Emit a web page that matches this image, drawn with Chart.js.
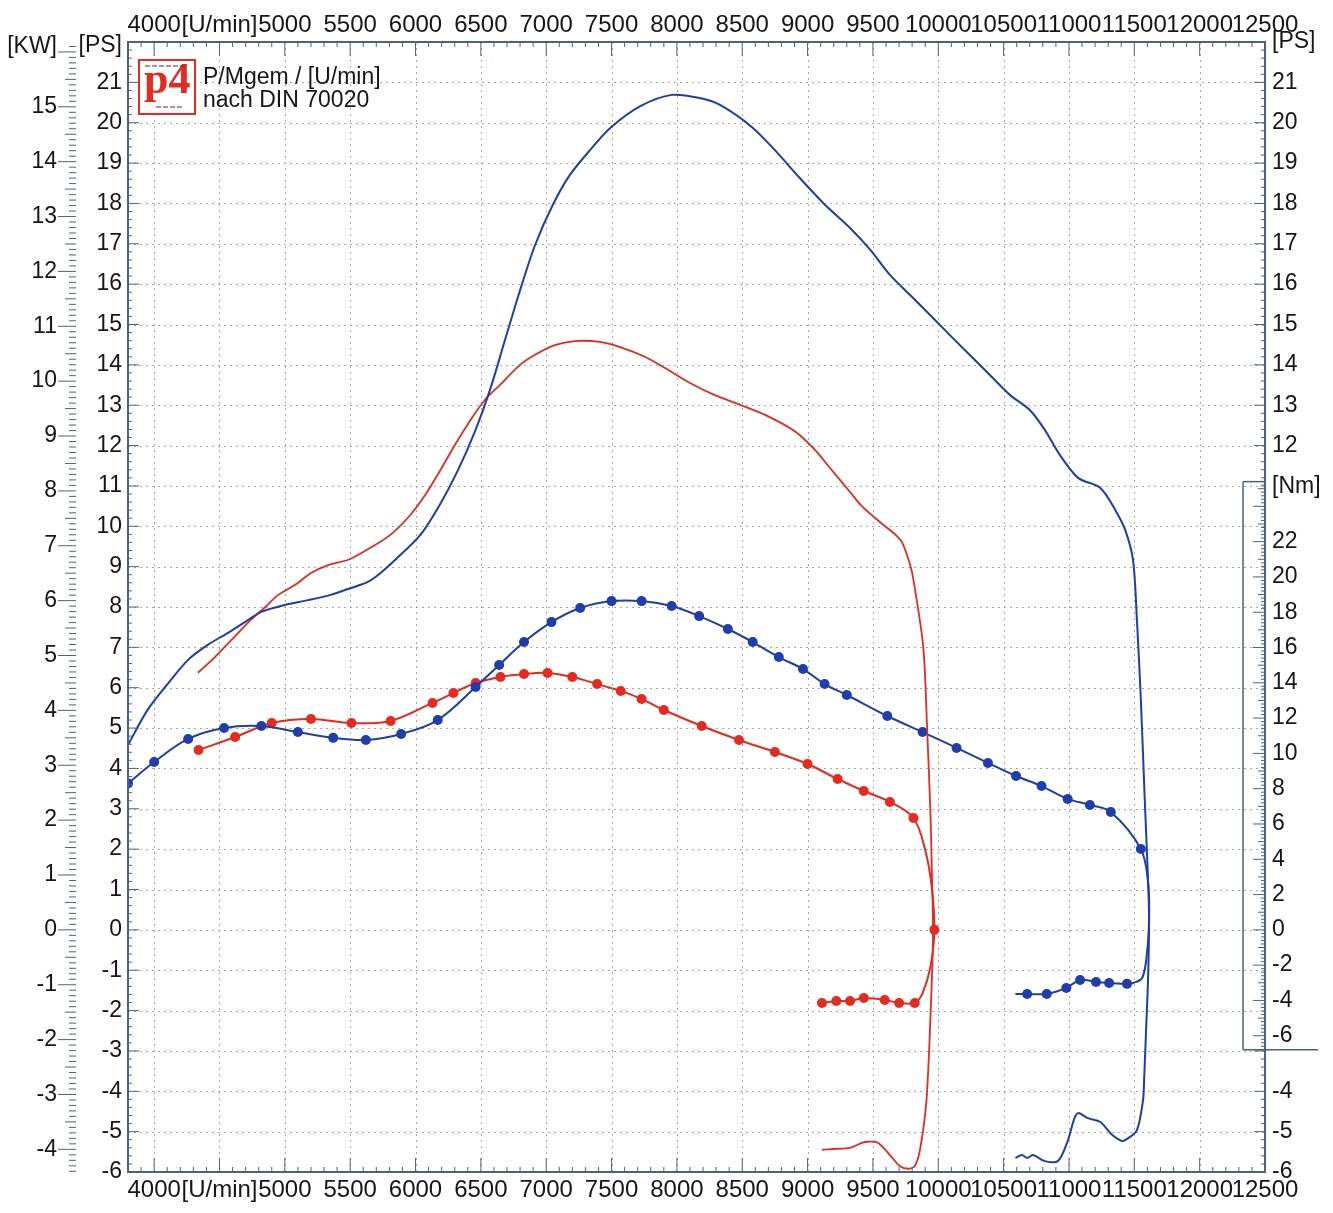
<!DOCTYPE html>
<html>
<head>
<meta charset="utf-8">
<title>P/Mgem nach DIN 70020</title>
<script src="https://cdn.jsdelivr.net/npm/chart.js@4.4.1/dist/chart.umd.min.js"></script>
<style>
  html, body { margin: 0; padding: 0; background: #fff; overflow: hidden; }
  #wrap { width: 1333px; height: 1213px; }
</style>
</head>
<body>
<div id="wrap"><canvas id="dyno" width="1333" height="1213"></canvas></div>
<script>
// --- Drehzahl-Achse ---
const rpmRange = [3800, 12500];
const rpmTicks = [4000, 4500, 5000, 5500, 6000, 6500, 7000, 7500, 8000, 8500, 9000, 9500, 10000, 10500, 11000, 11500, 12000, 12500];
const rpmTickLabels = { 4500: '[U/min]' };

// --- Leistung blau (PS), inkl. Auslauf-/Verlustkurve ---
const bluePowerRpm = [3800, 3950, 4110, 4260, 4410, 4565, 4720, 4820, 5000, 5180, 5350, 5505, 5635, 5735, 5845, 6035, 6185, 6325, 6455, 6570, 6685, 6800, 6915, 7050, 7180, 7335, 7490, 7720, 7960, 8175, 8330, 8575, 8750, 8940, 9135, 9325, 9480, 9630, 9785, 9975, 10165, 10395, 10550, 10700, 10815, 10930, 11070, 11240, 11355, 11430, 11490, 11520, 11550, 11580, 11605, 11613, 11605, 11590, 11575, 11567, 11520, 11445, 11405, 11330, 11240, 11140, 11075, 11045, 10985, 10915, 10815, 10725, 10680, 10640, 10590];
const bluePowerPs = [4.58, 5.45, 6.12, 6.69, 7.06, 7.36, 7.68, 7.88, 8.05, 8.17, 8.30, 8.47, 8.62, 8.85, 9.17, 9.78, 10.53, 11.39, 12.35, 13.38, 14.62, 15.85, 16.97, 17.96, 18.70, 19.32, 19.87, 20.41, 20.69, 20.61, 20.44, 19.89, 19.32, 18.63, 17.96, 17.39, 16.85, 16.23, 15.73, 15.11, 14.49, 13.75, 13.25, 12.88, 12.39, 11.77, 11.20, 10.95, 10.40, 9.91, 9.17, 7.68, 5.70, 3.22, 1.24, 0.25, -1.24, -2.48, -3.72, -4.21, -4.96, -5.18, -5.23, -5.08, -4.76, -4.66, -4.54, -4.64, -5.28, -5.73, -5.73, -5.58, -5.65, -5.58, -5.65];

// --- Leistung rot (PS) ---
const redPowerRpm = [4335, 4465, 4590, 4740, 4850, 4950, 5080, 5200, 5330, 5485, 5650, 5805, 5960, 6075, 6190, 6300, 6420, 6530, 6645, 6800, 6915, 7065, 7220, 7410, 7565, 7755, 7910, 8100, 8290, 8485, 8675, 8905, 9055, 9170, 9325, 9415, 9555, 9670, 9725, 9785, 9810, 9885, 9915, 9940, 9950, 9960, 9945, 9910, 9860, 9820, 9770, 9705, 9630, 9540, 9460, 9415, 9325, 9195, 9110];
const redPowerPs = [6.37, 6.76, 7.18, 7.68, 8.00, 8.30, 8.55, 8.84, 9.04, 9.17, 9.46, 9.78, 10.28, 10.78, 11.39, 12.01, 12.63, 13.13, 13.50, 14.00, 14.25, 14.49, 14.59, 14.57, 14.44, 14.20, 13.92, 13.55, 13.25, 13.01, 12.76, 12.35, 11.90, 11.45, 10.85, 10.50, 10.10, 9.80, 9.59, 9.04, 8.67, 7.01, 4.95, 2.90, 1.56, -0.08, -1.74, -4.21, -5.45, -5.85, -5.92, -5.85, -5.58, -5.28, -5.25, -5.28, -5.40, -5.43, -5.45];

// --- Drehmoment blau (Nm); 1 = Messpunkt ---
const blueTorqueRpm = [3800, 4000, 4260, 4535, 4820, 5100, 5370, 5620, 5890, 6170, 6460, 6640, 6830, 7040, 7260, 7500, 7730, 7960, 8170, 8390, 8580, 8780, 8965, 9130, 9300, 9610, 9880, 10140, 10380, 10595, 10790, 10990, 11160, 11320, 11550, 11605, 11613, 11597, 11560, 11490, 11444, 11307, 11207, 11085, 10980, 10830, 10680, 10590];
const blueTorqueNm = [8.30, 9.51, 10.82, 11.44, 11.55, 11.21, 10.88, 10.76, 11.10, 11.89, 13.76, 15.01, 16.31, 17.44, 18.24, 18.63, 18.63, 18.35, 17.78, 17.05, 16.31, 15.46, 14.78, 13.93, 13.31, 12.12, 11.21, 10.31, 9.46, 8.72, 8.15, 7.42, 7.08, 6.68, 4.58, 2.71, 0.73, -1.31, -2.73, -3.01, -3.06, -3.01, -2.95, -2.84, -3.29, -3.63, -3.63, -3.63];
const blueTorqueDots = [1, 1, 1, 1, 1, 1, 1, 1, 1, 1, 1, 1, 1, 1, 1, 1, 1, 1, 1, 1, 1, 1, 1, 1, 1, 1, 1, 1, 1, 1, 1, 1, 1, 1, 1, 0, 0, 0, 0, 0, 1, 1, 1, 1, 1, 1, 1, 0];

// --- Drehmoment rot (Nm); 1 = Messpunkt ---
const redTorqueRpm = [4340, 4620, 4900, 5200, 5510, 5810, 6130, 6290, 6460, 6650, 6830, 7010, 7200, 7390, 7570, 7730, 7900, 8190, 8475, 8750, 9000, 9230, 9430, 9630, 9810, 9900, 9950, 9970, 9940, 9880, 9820, 9700, 9590, 9430, 9325, 9220, 9110];
const redTorqueNm = [10.19, 10.93, 11.72, 11.95, 11.72, 11.84, 12.86, 13.42, 13.99, 14.33, 14.50, 14.56, 14.33, 13.93, 13.54, 13.08, 12.46, 11.55, 10.76, 10.08, 9.40, 8.55, 7.87, 7.25, 6.34, 4.53, 2.43, 0, -2.10, -3.58, -4.14, -4.14, -3.97, -3.86, -4.03, -4.03, -4.14];
const redTorqueDots = [1, 1, 1, 1, 1, 1, 1, 1, 1, 1, 1, 1, 1, 1, 1, 1, 1, 1, 1, 1, 1, 1, 1, 1, 1, 0, 0, 1, 0, 0, 1, 1, 1, 1, 1, 1, 1];

// --- Achsteilungen ---
const psRange = [-6, 22];
const psTicksLeft = [-6, -5, -4, -3, -2, -1, 0, 1, 2, 3, 4, 5, 6, 7, 8, 9, 10, 11, 12, 13, 14, 15, 16, 17, 18, 19, 20, 21];
const psTicksRight = [21, 20, 19, 18, 17, 16, 15, 14, 13, 12, -4, -5, -6];
const kwTicks = [-4, -3, -2, -1, 0, 1, 2, 3, 4, 5, 6, 7, 8, 9, 10, 11, 12, 13, 14, 15];
const nmTicks = [-6, -4, -2, 0, 2, 4, 6, 8, 10, 12, 14, 16, 18, 20, 22];

const PS_PER_KW = 1.35962;
const NM_PER_PS = 2.287;   // Nm-Skala liegt im Raster der PS-Skala (0 auf 0)
const NM_BOX = [-6.8, 25.4]; // Bereich des Nm-Kastens rechts

const BLUE = '#1f3dac';
const RED = '#e62a20';
const AXIS = '#4e6379';
const GRID = '#a9a9a9';
const TXT = '#161616';
const FONT = "'Liberation Sans', Arial, sans-serif";

const toPoints = (xs, ys) => xs.map((x, i) => ({ x: x, y: ys[i] }));
const labelled = values => values.map(v => [v, String(v)]);
const setTicks = entries => scale => {
    scale.ticks = entries.map(e => ({ value: e[0], text: e[1] }));
};
const tickFont = { family: FONT, size: 23 };

const seg = (ctx, x1, y1, x2, y2) => {
    ctx.beginPath();
    ctx.moveTo(x1, y1);
    ctx.lineTo(x2, y2);
    ctx.stroke();
};

// Raster, Teilstriche, Rahmen, Logo
const dynoFrame = {
    id: 'dynoFrame',
    beforeDatasetsDraw(chart) {
        const { ctx, chartArea: a, scales } = chart;
        ctx.save();
        ctx.strokeStyle = GRID;
        ctx.lineWidth = 1;
        ctx.setLineDash([2, 4]);
        rpmTicks.forEach(v => {
            const x = Math.round(scales.x.getPixelForValue(v)) + 0.5;
            seg(ctx, x, a.top, x, a.bottom);
        });
        psTicksLeft.forEach(v => {
            if (v <= psRange[0]) return;
            const y = Math.round(scales.yPS.getPixelForValue(v)) + 0.5;
            seg(ctx, a.left, y, a.right, y);
        });
        ctx.restore();
    },
    afterDatasetsDraw(chart) {
        const { ctx, chartArea: a, scales } = chart;
        ctx.save();
        ctx.strokeStyle = AXIS;
        ctx.lineWidth = 1;

        // Drehzahl oben und unten
        for (let r = rpmRange[0]; r <= rpmRange[1]; r += 100) {
            const x = scales.x.getPixelForValue(r);
            const len = r % 500 === 0 ? 14 : 5;
            seg(ctx, x, a.bottom, x, a.bottom - len);
            seg(ctx, x, a.top, x, a.top + len);
        }
        // PS links und rechts
        for (let i = psRange[0] * 5; i <= psRange[1] * 5; i++) {
            const v = i / 5;
            const y = scales.yPS.getPixelForValue(v);
            const len = i % 5 === 0 ? 11 : 4;
            seg(ctx, a.left, y, a.left + len, y);
            const nm = v * NM_PER_PS;
            if (nm > NM_BOX[1] || nm < NM_BOX[0]) seg(ctx, a.right, y, a.right - len, y);
        }
        // Nm im Kasten
        for (let i = Math.ceil(NM_BOX[0] * 5); i <= Math.floor(NM_BOX[1] * 5); i++) {
            const y = scales.yNm.getPixelForValue(i / 5);
            const len = i % 10 === 0 ? 12 : (i % 5 === 0 ? 7 : 4);
            seg(ctx, a.right, y, a.right - len, y);
        }
        // KW-Teilung
        const kx = scales.yKW.right - 4;
        for (let i = Math.ceil(scales.yKW.min * 10); i <= Math.floor(scales.yKW.max * 10); i++) {
            const y = scales.yKW.getPixelForValue(i / 10);
            const len = i % 10 === 0 ? 18 : (i % 5 === 0 ? 11 : 7);
            seg(ctx, kx - len, y, kx, y);
        }

        // Rahmen
        ctx.lineWidth = 2;
        ctx.strokeRect(a.left, a.top, a.right - a.left, a.bottom - a.top);

        // Nm-Kasten
        ctx.lineWidth = 1.5;
        const bx = a.right - 22;
        const bTop = scales.yNm.getPixelForValue(NM_BOX[1]);
        const bBot = scales.yNm.getPixelForValue(NM_BOX[0]);
        seg(ctx, bx, bTop, a.right, bTop);
        seg(ctx, bx, bTop, bx, bBot);
        seg(ctx, bx, bBot, a.right + 53, bBot);
        ctx.restore();
    },
    afterDraw(chart) {
        const { ctx, chartArea: a } = chart;
        ctx.save();
        // Logo
        const lx = a.left + 11, ly = a.top + 18;
        ctx.fillStyle = '#fff';
        ctx.fillRect(lx, ly, 56, 54);
        ctx.strokeStyle = RED;
        ctx.lineWidth = 2;
        ctx.strokeRect(lx, ly, 56, 54);
        ctx.fillStyle = RED;
        ctx.font = "bold 44px 'Liberation Serif', 'DejaVu Serif', serif";
        ctx.textBaseline = 'alphabetic';
        ctx.fillText('p4', lx + 5, ly + 33);
        ctx.strokeStyle = '#5a2a2a';
        ctx.lineWidth = 1;
        for (let k = 0; k < 6; k++) {
            seg(ctx, lx + 6 + k * 7, ly + 6, lx + 11 + k * 7, ly + 6);
            if (k > 0 && k < 5) seg(ctx, lx + 10 + k * 7, ly + 47, lx + 15 + k * 7, ly + 47);
        }
        // Titel
        ctx.fillStyle = TXT;
        ctx.font = '23px ' + FONT;
        ctx.fillText('P/Mgem / [U/min]', a.left + 75, a.top + 42);
        ctx.fillText('nach DIN 70020', a.left + 75, a.top + 65);
        ctx.restore();
    }
};

const xScale = (position, height, pad) => ({
    type: 'linear',
    position: position,
    min: rpmRange[0],
    max: rpmRange[1],
    afterBuildTicks: setTicks(rpmTicks.map(v => [v, rpmTickLabels[v] || String(v)])),
    afterFit: s => { s.height = height; },
    grid: { display: false, drawTicks: false },
    border: { display: false },
    ticks: {
        font: { family: FONT, size: 24 }, color: TXT, padding: pad, maxRotation: 0, autoSkip: false,
        callback: (v, i, t) => t[i].text
    }
});

const yScale = (position, weight, min, max, width, pad, entries) => ({
    type: 'linear',
    position: position,
    weight: weight,
    min: min,
    max: max,
    afterBuildTicks: setTicks(entries),
    afterFit: s => { s.width = width; },
    grid: { display: false, drawTicks: false },
    border: { display: false },
    ticks: {
        font: tickFont, color: TXT, padding: pad, autoSkip: false,
        callback: (v, i, t) => t[i].text
    }
});

// rechte Achse: PS-Teilung oben/unten, Nm-Teilung im Kasten (gleiches Pixelraster)
const rightEntries = labelled(psTicksRight)
    .concat([[22, '[PS]']])
    .concat(nmTicks.map(n => [n / NM_PER_PS, String(n)]))
    .concat([[25.1 / NM_PER_PS, '[Nm]']]);

new Chart(document.getElementById('dyno'), {
    type: 'line',
    data: {
        datasets: [
            {
                label: 'P blau',
                data: toPoints(bluePowerRpm, bluePowerPs),
                yAxisID: 'yPS',
                borderColor: BLUE,
                borderWidth: 2,
                pointRadius: 0,
                tension: 0.3
            },
            {
                label: 'P rot',
                data: toPoints(redPowerRpm, redPowerPs),
                yAxisID: 'yPS',
                borderColor: RED,
                borderWidth: 1.8,
                pointRadius: 0,
                tension: 0.3
            },
            {
                label: 'M blau',
                data: toPoints(blueTorqueRpm, blueTorqueNm),
                yAxisID: 'yNm',
                borderColor: BLUE,
                borderWidth: 2,
                pointRadius: c => (blueTorqueDots[c.dataIndex] ? 5 : 0),
                pointBackgroundColor: BLUE,
                pointBorderWidth: 0,
                tension: 0.35
            },
            {
                label: 'M rot',
                data: toPoints(redTorqueRpm, redTorqueNm),
                yAxisID: 'yNm',
                borderColor: RED,
                borderWidth: 2,
                pointRadius: c => (redTorqueDots[c.dataIndex] ? 5 : 0),
                pointBackgroundColor: RED,
                pointBorderWidth: 0,
                tension: 0.35
            }
        ]
    },
    options: {
        responsive: false,
        animation: false,
        events: [],
        layout: { padding: 0 },
        plugins: {
            legend: { display: false },
            tooltip: { enabled: false }
        },
        scales: {
            x: xScale('bottom', 41, 4),
            xTop: xScale('top', 42, 2),
            yPS: yScale('left', 0, psRange[0], psRange[1], 48, 6, labelled(psTicksLeft).concat([[21.9, '[PS]']])),
            yKW: yScale('left', 1, psRange[0] / PS_PER_KW, psRange[1] / PS_PER_KW, 80, 23, labelled(kwTicks).concat([[16.1, '[KW]']])),
            yPSr: yScale('right', 0, psRange[0], psRange[1], 68, 7, rightEntries),
            yNm: {
                type: 'linear',
                display: false,
                min: psRange[0] * NM_PER_PS,
                max: psRange[1] * NM_PER_PS
            }
        }
    },
    plugins: [dynoFrame]
});
</script>
</body>
</html>
